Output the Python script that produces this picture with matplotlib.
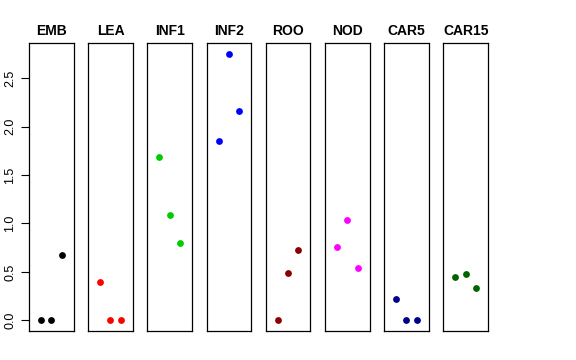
import matplotlib
matplotlib.use('Agg')
import matplotlib.pyplot as plt

plt.rcParams['font.family'] = ['Liberation Sans', 'DejaVu Sans']

# 数据
tissues = ['EMB', 'LEA', 'INF1', 'INF2', 'ROO', 'NOD', 'CAR5', 'CAR15']
emb = [0.0, 0.0, 0.67]
lea = [0.395, 0.0, 0.0]
inf1 = [1.685, 1.09, 0.80]
inf2 = [1.847, 2.75, 2.163]
roo = [0.0, 0.488, 0.722]
nod = [0.76, 1.035, 0.543]
car5 = [0.223, 0.0, 0.0]
car15 = [0.444, 0.475, 0.33]
values = [emb, lea, inf1, inf2, roo, nod, car5, car15]
colors = ['black', 'red', '#00CD00', 'blue', '#8B0000', 'magenta', '#00008B', '#006400']
reps = [1, 2, 3]
yticks = [0.0, 0.5, 1.0, 1.5, 2.0, 2.5]

W, H = 576, 360
fig = plt.figure(figsize=(W / 100, H / 100), dpi=100)

left0 = 29.0
step = 59.2
pw = 44.5
top, bottom = 43.3, 331.0

for i, (name, vals, col) in enumerate(zip(tissues, values, colors)):
    x0 = left0 + i * step
    ax = fig.add_axes([x0 / W, 1 - bottom / H, pw / W, (bottom - top) / H])
    ax.scatter(reps, vals, s=24, color=col, zorder=3, linewidths=0)
    ax.set_xlim(-0.16, 4.16)
    ax.set_ylim(-0.11, 2.86)
    ax.set_xticks([])
    for sp in ax.spines.values():
        sp.set_linewidth(0.9)
        sp.set_color('black')
    ax.set_title(name, fontsize=10, fontweight='bold', pad=6)
    if i == 0:
        ax.set_yticks(yticks)
        ax.set_yticklabels(['%.1f' % t for t in yticks], fontsize=9)
        ax.tick_params(axis='y', length=6, width=0.8, pad=3, labelrotation=90)
        for lab in ax.get_yticklabels():
            lab.set_verticalalignment('center')
    else:
        ax.set_yticks([])

plt.savefig('out.png', dpi=100)
